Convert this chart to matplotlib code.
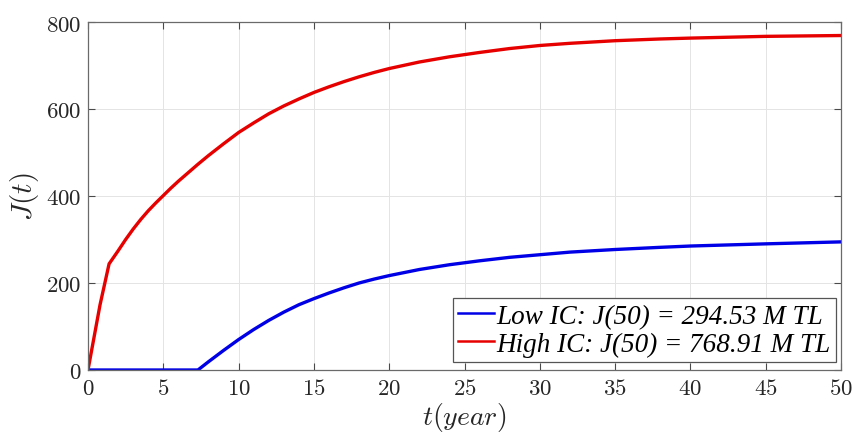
import matplotlib
matplotlib.use("Agg")
import matplotlib.pyplot as plt

plt.rcParams["mathtext.fontset"] = "cm"
plt.rcParams["font.family"] = ["DejaVu Serif"]

# Accumulated value J(t) over time for the two initial-condition scenarios
t_low = [0, 2, 4, 6, 7.3, 8, 9, 10, 11, 12, 13, 14, 15, 16, 17, 18, 19, 20,
         22, 24, 26, 28, 30, 32, 35, 38, 40, 45, 50]
j_low = [0, 0, 0, 0, 0, 19, 45, 70, 93, 114, 133, 150, 164, 177, 189, 200,
         209, 217, 231, 242, 251, 259, 265, 271, 277, 282, 285, 290, 294.53]

t_high = [0, 0.4, 0.8, 1.4, 2, 2.5, 3, 3.5, 4, 4.5, 5, 5.5, 6, 6.5, 7, 7.3,
          8, 9, 10, 11, 12, 13, 14, 15, 16, 17, 18, 19, 20, 22, 24, 26, 28,
          30, 32, 35, 38, 40, 45, 50]
j_high = [0, 75, 150, 244, 274, 300, 324, 346, 366, 384, 401, 418, 434, 449,
          464, 473, 493, 520, 546, 568, 589, 607, 623, 638, 651, 663, 674,
          684, 693, 708, 720, 730, 739, 746, 751, 757, 761, 763, 767, 768.91]

labels = ["Low IC: J(50) = 294.53 M TL", "High IC: J(50) = 768.91 M TL"]
colors = ["#0000e6", "#e60000"]

x_ticks = list(range(0, 51, 5))
y_ticks = [0, 200, 400, 600, 800]

fig = plt.figure(figsize=(8.55, 4.35), dpi=100)
ax = fig.add_axes([88 / 855, 64 / 435, 753 / 855, 348 / 435])

l1, = ax.plot(t_low, j_low, color=colors[0], lw=2.4, solid_joinstyle="round")
l2, = ax.plot(t_high, j_high, color=colors[1], lw=2.4, solid_joinstyle="round")

ax.set_xlim(0, 50)
ax.set_ylim(0, 800)
ax.set_xticks(x_ticks)
ax.set_yticks(y_ticks)
ax.set_xticklabels([f"${v}$" for v in x_ticks])
ax.set_yticklabels([f"${v}$" for v in y_ticks])

ax.grid(True, color="#e4e4e4", lw=0.7)
ax.set_axisbelow(True)
ax.tick_params(direction="in", length=5, width=0.8, color="#4a4a4a",
               labelsize=16.5, labelcolor="#262626", top=True, right=True,
               pad=5)
for s in ax.spines.values():
    s.set_color("#6a6a6a")
    s.set_linewidth(0.9)

ax.set_xlabel(r"$t(year)$", fontsize=20, color="#262626", labelpad=1)
ax.set_ylabel(r"$J(t)$", fontsize=21, color="#262626", labelpad=3)

leg = fig.legend([l1, l2], labels, loc="lower right",
                 bbox_to_anchor=(836 / 855, (435 - 363) / 435),
                 borderaxespad=0, frameon=True, fancybox=False,
                 framealpha=1, edgecolor="#555555",
                 handlelength=1.3, handletextpad=0.1, borderpad=0.2,
                 labelspacing=0.1,
                 prop={"family": "Liberation Serif", "style": "italic",
                       "size": 19.5})
leg.get_frame().set_linewidth(0.9)
for h in leg.legend_handles:
    h.set_linewidth(1.8)

fig.savefig("out.png", dpi=100)
